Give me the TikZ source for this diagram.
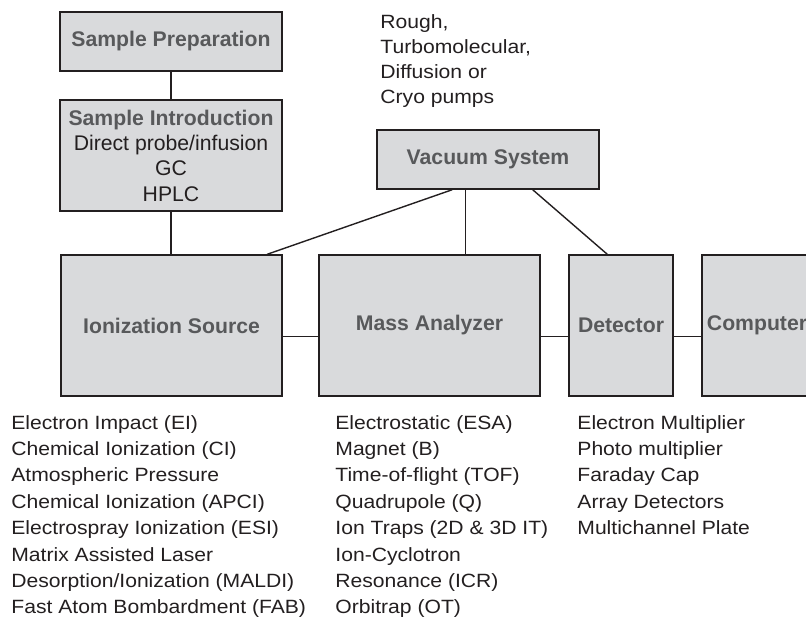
\documentclass[tikz,border=0pt]{standalone}
\usepackage{fontspec}
\setmainfont{Liberation Sans}
\newfontfamily\listfont{Liberation Sans}[FakeStretch=1.1]
\usetikzlibrary{calc}

\definecolor{boxgray}{HTML}{D9DADC}
\definecolor{titlegray}{HTML}{58595B}
\definecolor{ink}{HTML}{231F20}

\tikzset{
  unit/.style={draw=ink, fill=boxgray, line width=0.7pt, inner sep=0pt,
    font=\fontsize{10.6}{12.65}\selectfont\bfseries, text=titlegray},
  wire/.style={draw=ink, line width=0.7pt},
  item/.style={anchor=base west, inner sep=0pt,
    font=\listfont\fontsize{9.6}{12}\selectfont, text=ink}
}

\begin{document}
\begin{tikzpicture}[x=0.5pt,y=-0.5pt]

      \useasboundingbox (0,0) rectangle (806,616);
      \clip (0,0) rectangle (806,616);

      \node[unit, minimum width=111pt, minimum height=29.5pt] (prep) at (171,41.5) {Sample Preparation};
      \node[unit, minimum width=111pt, minimum height=55.5pt, align=center,
        font=\fontsize{10.6}{12.65}\selectfont, text=ink] (intro) at (171,155.5)
        {\textbf{\textcolor{titlegray}{Sample Introduction}}\\ Direct probe/infusion\\ GC\\ HPLC};
      \node[unit, minimum width=111pt, minimum height=29.5pt] (vac) at (488,159.5) {Vacuum System};

      \node[unit, minimum width=110.5pt, minimum height=70.5pt] (ion) at (171.5,325.5) {Ionization Source};
      \node[unit, minimum width=110.5pt, minimum height=70.5pt] (mass) at (429.5,325.5) {Mass Analyzer};
      \node[unit, minimum width=52pt, minimum height=70.5pt] (det) at (621,325.5) {Detector};
      \node[unit, minimum width=55pt, minimum height=70.5pt] (comp) at (757,325.5) {Computer};

      \draw[wire] (prep) -- (intro);
      \draw[wire] (intro.south) -- (intro.south |- ion.north);

      % vacuum lines
      \coordinate (vacmid) at ($(vac.south west)!.40!(vac.south east)$);
      \draw[wire] ($(vac.south west)!.34!(vac.south east)$) -- ($(ion.north west)!.93!(ion.north east)$);
      \draw[wire] (vacmid) -- (vacmid |- mass.north);
      \draw[wire] ($(vac.south west)!.70!(vac.south east)$) -- ($(det.north west)!.37!(det.north east)$);

      \draw[wire] ([yshift=-5.5pt]ion.east) -- ([yshift=-5.5pt]mass.west);
      \draw[wire] ([yshift=-5.5pt]mass.east) -- ([yshift=-5.5pt]det.west);
      \draw[wire] ([yshift=-5.5pt]det.east) -- ([yshift=-5.5pt]comp.west);

      \foreach \t [count=\i] in {{Rough,},{Turbomolecular,},Diffusion or,Cryo pumps}
      \node[item] (pump\i) at (380,{28+25*(\i-1)}) {\t};

      \foreach \t [count=\i] in {Electron Impact (EI),Chemical Ionization (CI),Atmospheric Pressure,
        Chemical Ionization (APCI),Electrospray Ionization (ESI),Matrix Assisted Laser,
        Desorption/Ionization (MALDI),Fast Atom Bombardment (FAB)}
      \node[item] (src\i) at (11,{429+26.4*(\i-1)}) {\t};

      \foreach \t [count=\i] in {Electrostatic (ESA),Magnet (B),Time-of-flight (TOF),Quadrupole (Q),
        Ion Traps (2D \& 3D IT),Ion-Cyclotron,Resonance (ICR),Orbitrap (OT)}
      \node[item] (ana\i) at (335,{429+26.4*(\i-1)}) {\t};

      \foreach \t [count=\i] in {Electron Multiplier,Photo multiplier,Faraday Cap,Array Detectors,
        Multichannel Plate}
      \node[item] (dtc\i) at (577,{429+26.4*(\i-1)}) {\t};

\end{tikzpicture}
\end{document}
